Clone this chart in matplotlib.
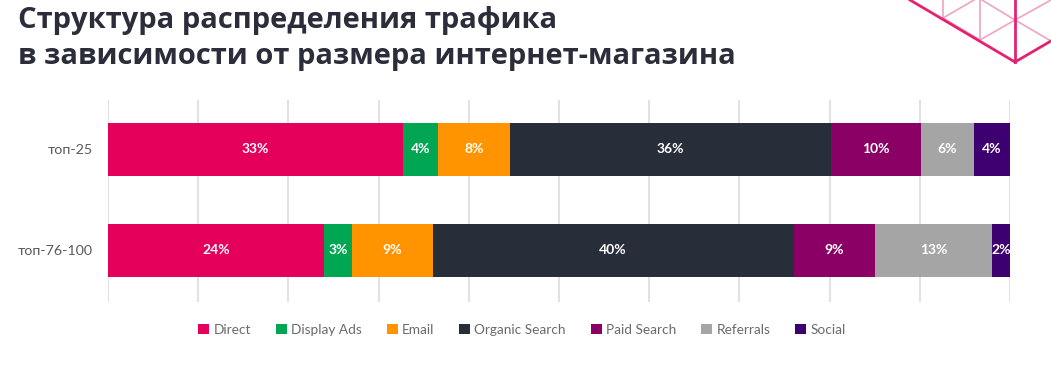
import numpy as np
import matplotlib
matplotlib.use('Agg')
from matplotlib import pyplot as plt
from matplotlib.lines import Line2D
from matplotlib.patches import Patch

## DATA

shops = ['топ-25', 'топ-76-100']
channels = ['Direct', 'Display Ads', 'Email', 'Organic Search', 'Paid Search', 'Referrals', 'Social']
top25 = [33, 4, 8, 36, 10, 6, 4]
top76_100 = [24, 3, 9, 40, 9, 13, 2]
colors = ['#e4005a', '#00a651', '#ff9300', '#282d3a', '#8a0065', '#a5a5a5', '#3e0070']

## PLOT

plt.rcParams['font.family'] = ['Lato', 'Open Sans', 'DejaVu Sans']

fig = plt.figure(figsize=(10.51, 3.73), dpi=100)
ax = fig.add_axes([108/1051, 1 - 302/373, 902/1051, 202/373])

rows = [top25, top76_100]
for i, row in enumerate(rows):
    vals = np.array(row, dtype=float)
    shares = vals / vals.sum() * 100  # bars are stretched to 100%
    left = 0
    for j, s in enumerate(shares):
        ax.barh(i, s, left=left, height=0.525, color=colors[j], zorder=2)
        ax.text(left + s / 2, i, str(row[j]) + '%', ha='center', va='center',
                color='white', fontsize=10, fontweight='bold', zorder=3)
        left += s

ax.set_xlim(0, 100)
ax.set_ylim(1.51, -0.49)
ax.set_xticks(np.arange(0, 101, 10))
ax.set_xticklabels([])
ax.set_yticks([0, 1])
ax.set_yticklabels(shops, fontsize=10.3, color='#5a5a5a')
ax.tick_params(length=0, pad=11)
ax.grid(axis='x', color='#e2e2e2', linewidth=1.5, zorder=0)
for sp in ax.spines.values():
    sp.set_visible(False)

# legend
handles = [Patch(facecolor=c, edgecolor='none') for c in colors]
fig.legend(handles, channels, loc='center', bbox_to_anchor=(522/1051, 1 - 330/373),
           ncol=7, frameon=False, fontsize=9.8, labelcolor='#6a6a6a',
           handlelength=0.8, handleheight=0.8, handletextpad=0.3, columnspacing=1.85)

# title
fig.text(18/1051, 1 - 6/373, 'Структура распределения трафика\nв зависимости от размера интернет-магазина',
         ha='left', va='top', fontsize=21, fontweight='bold', color='#2b2e3a',
         family=['Open Sans', 'DejaVu Sans'], linespacing=1.3)

# pink lattice in the corner
W, H = 1051, 373
def seg(x0, y0, x1, y1, c, lw):
    fig.add_artist(Line2D([x0/W, x1/W], [1 - y0/H, 1 - y1/H], color=c, linewidth=lw,
                          transform=fig.transFigure))

light = '#f0a3c3'
dark = '#e6216f'
seg(943, 0, 943, 18, light, 1.2)
seg(980, 0, 980, 41, light, 1.2)
seg(943, 18, 974, 0, light, 1.2)
seg(943, 18, 980, 40, light, 1.2)
seg(980, 40, 1015, 20, light, 1.2)
seg(982, 0, 1015, 20, light, 1.2)
seg(1015, 20, 1051, 0, light, 1.2)
seg(1015, 20, 1051, 41, light, 1.2)
seg(910, 0, 1015, 62, dark, 2)
seg(1015, 62, 1051, 41, dark, 2)
seg(1015, 0, 1015, 62, dark, 2)

fig.savefig('out.png', dpi=100)
